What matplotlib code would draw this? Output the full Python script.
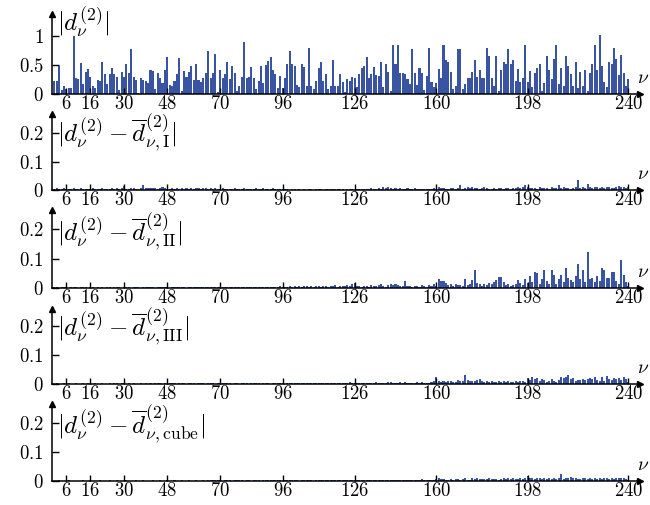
import numpy as np
import matplotlib
matplotlib.use('Agg')
import matplotlib.pyplot as plt

plt.rcParams['mathtext.fontset'] = 'cm'
plt.rcParams['font.family'] = 'serif'
plt.rcParams['font.serif'] = ['cmr10', 'DejaVu Serif']

# |d_nu^(2)| for nu = 1..240
d2 = [0.23, 0.23, 0.48, 0.07, 0.14, 0.09, 0.10, 0.10, 1.00, 0.28,
      0.26, 0.53, 0.17, 0.38, 0.43, 0.30, 0.13, 0.10, 0.24, 0.23,
      0.56, 0.34, 0.17, 0.35, 0.44, 0.35, 0.30, 0.07, 0.38, 0.30,
      0.51, 0.37, 0.78, 0.29, 0.24, 0.01, 0.27, 0.24, 0.23, 0.19,
      0.42, 0.40, 0.08, 0.36, 0.27, 0.19, 0.42, 0.63, 0.15, 0.13,
      0.23, 0.35, 0.62, 0.06, 0.40, 0.30, 0.38, 0.49, 0.24, 0.51,
      0.24, 0.20, 0.27, 0.36, 0.74, 0.27, 0.37, 0.69, 0.03, 0.42,
      0.27, 0.35, 0.56, 0.26, 0.48, 0.37, 0.06, 0.14, 0.30, 0.90,
      0.28, 0.30, 0.47, 0.28, 0.09, 0.22, 0.49, 0.19, 0.50, 0.57,
      0.63, 0.42, 0.35, 0.10, 0.31, 0.10, 0.28, 0.51, 0.74, 0.51,
      0.48, 0.15, 0.12, 0.52, 0.47, 0.14, 0.79, 0.14, 0.08, 0.22,
      0.44, 0.56, 0.22, 0.35, 0.09, 0.14, 0.59, 0.13, 0.13,
      0.35, 0.21, 0.03, 0.26, 0.23, 0.29, 0.27, 0.12, 0.35, 0.45,
      0.49, 0.64, 0.28, 0.35, 0.47, 0.33, 0.31, 0.56, 0.12, 0.52,
      0.38, 0.05, 0.84, 0.51, 0.85, 0.37, 0.37, 0.35, 0.26, 0.17,
      0.77, 0.37, 0.15, 0.45, 0.36, 0.07, 0.31, 0.80, 0.20, 0.12,
      0.19, 0.43, 0.28, 0.84, 0.59, 0.56, 0.38, 0.09, 0.14, 0.77,
      0.77, 0.09, 0.17, 0.28, 0.28, 0.38, 0.59, 0.30, 0.42, 0.28,
      0.28, 0.80, 0.66, 0.28, 0.13, 0.65, 0.05, 0.42, 0.56, 0.52,
      0.77, 0.52, 0.59, 0.23, 0.43, 0.21, 0.28, 0.84, 0.21, 0.40,
      0.12, 0.37, 0.45, 0.51, 0.05, 0.19, 0.66, 0.42, 0.26, 0.60,
      0.85, 0.17, 0.45, 0.14, 0.66, 0.48, 0.35, 0.13, 0.56, 0.10,
      0.38, 0.14, 0.41, 0.05, 0.37, 0.52, 0.85, 0.41, 1.01, 0.48,
      0.21, 0.12, 0.56, 0.52, 0.80, 0.60, 0.33, 0.68, 0.37, 0.14,
      0.26]

# residuals in units of 1e-3
res_I = [5, 6, 4, 3, 6, 5, 2, 4, 6, 5,
         4, 6, 5, 3, 5, 4, 6, 3, 5, 4,
         6, 5, 3, 5, 6, 4, 7, 5, 8, 14,
         3, 2, 6, 7, 5, 4, 8, 19, 6, 8,
         7, 6, 8, 5, 7, 9, 6, 4, 5, 7,
         3, 6, 5, 7, 4, 6, 5, 8, 4, 6,
         7, 5, 6, 8, 4, 6, 5, 7, 3, 5,
         6, 4, 2, 5, 3, 6, 5, 2, 4, 6,
         3, 5, 4, 2, 6, 5, 3, 7, 4, 5,
         2, 6, 4, 3, 5, 2, 4, 3, 1, 5,
         2, 0, 3, 1, 3, 0, 2, 3, 0, 3,
         2, 3, 1, 3, 4, 2, 3, 5, 4, 3,
         2, 0, 3, 5, 2, 1, 4, 3, 2, 5,
         3, 2, 6, 5, 4, 7, 3, 10, 6, 12,
         7, 5, 6, 4, 7, 5, 3, 6, 5, 4,
         6, 3, 5, 4, 3, 5, 2, 4, 7, 5,
         9, 6, 7, 5, 4, 8, 6, 5, 7, 16,
         3, 6, 12, 8, 10, 7, 6, 5, 6, 12,
         6, 5, 4, 7, 5, 6, 8, 5, 7, 6,
         5, 8, 6, 9, 7, 10, 18, 9, 6, 8,
         7, 5, 9, 6, 8, 7, 5, 10, 6, 8,
         18, 7, 9, 6, 8, 5, 7, 9, 36, 8,
         12, 7, 21, 10, 6, 9, 12, 8, 10, 7,
         9, 11, 8, 6, 10, 13, 9, 12, 8, 10]

res_II = [2, 3, 1, 2, 3, 2, 1, 2, 3, 2,
          1, 2, 2, 3, 1, 2, 3, 1, 2, 1,
          2, 1, 3, 2, 1, 2, 3, 2, 1, 3,
          2, 3, 1, 2, 3, 2, 1, 2, 3, 2,
          3, 2, 1, 3, 2, 4, 2, 3, 1, 3,
          2, 4, 3, 2, 3, 1, 3, 4, 2, 3,
          3, 2, 4, 3, 2, 4, 3, 2, 4, 3,
          4, 3, 2, 4, 3, 5, 2, 4, 3, 2,
          3, 4, 2, 3, 5, 3, 4, 2, 5, 3,
          4, 3, 5, 4, 6, 3, 5, 4, 8, 5,
          6, 4, 7, 5, 8, 6, 5, 7, 4, 6,
          7, 5, 6, 8, 5, 7, 6, 9, 5, 6,
          7, 6, 9, 8, 12, 18, 7, 6, 5, 8,
          6, 5, 9, 7, 8, 10, 15, 7, 5, 9,
          12, 10, 14, 10, 6, 8, 25, 7, 6, 5,
          8, 6, 5, 9, 7, 5, 10, 8, 12, 6,
          30, 23, 23, 16, 10, 12, 8, 14, 9, 11,
          7, 32, 10, 12, 26, 60, 18, 12, 8, 14,
          10, 16, 12, 20, 26, 39, 39, 22, 9, 14,
          8, 10, 12, 26, 18, 11, 32, 18, 41, 20,
          53, 50, 12, 30, 60, 25, 15, 60, 46, 14,
          30, 46, 20, 69, 35, 28, 20, 40, 83, 30,
          62, 20, 122, 30, 35, 20, 40, 25, 69, 62,
          35, 35, 53, 53, 25, 14, 94, 44, 21, 8]

res_III = [1, 2, 1, 1, 2, 1, 2, 1, 1, 2,
           1, 1, 2, 1, 2, 1, 1, 2, 1, 1,
           2, 1, 1, 2, 1, 2, 2, 1, 3, 2,
           1, 2, 1, 2, 1, 1, 2, 1, 2, 1,
           2, 1, 2, 2, 3, 1, 2, 1, 2, 3,
           2, 1, 2, 3, 2, 1, 2, 2, 3, 1,
           2, 3, 2, 1, 2, 3, 2, 1, 3, 2,
           4, 2, 3, 2, 1, 3, 2, 1, 2, 3,
           2, 1, 3, 2, 3, 2, 1, 2, 3, 2,
           1, 2, 4, 3, 2, 3, 1, 2, 4, 3,
           2, 3, 4, 2, 3, 5, 2, 3, 4, 2,
           3, 4, 5, 3, 2, 4, 5, 3, 4, 2,
           5, 3, 4, 6, 3, 4, 2, 5, 3, 4,
           5, 3, 4, 3, 6, 4, 5, 3, 4, 6,
           8, 4, 5, 3, 7, 4, 6, 5, 4, 3,
           5, 6, 4, 7, 3, 5, 4, 8, 10, 23,
           12, 8, 10, 7, 9, 11, 6, 8, 14, 9,
           12, 30, 15, 10, 12, 9, 14, 16, 11, 8,
           9, 7, 10, 8, 6, 9, 8, 11, 7, 9,
           6, 8, 10, 7, 12, 9, 8, 21, 14, 23,
           18, 22, 10, 19, 14, 8, 11, 17, 9, 7,
           13, 26, 22, 24, 30, 16, 20, 12, 14, 13,
           18, 15, 17, 20, 16, 26, 14, 12, 24, 9,
           28, 17, 14, 22, 16, 20, 13, 24, 19, 6]

res_cube = [1, 0, 2, 1, 0, 1, 2, 0, 1, 1,
            0, 1, 2, 1, 0, 2, 1, 0, 1, 2,
            1, 0, 1, 2, 0, 1, 2, 1, 0, 1,
            2, 1, 0, 1, 2, 0, 1, 2, 1, 0,
            1, 2, 0, 1, 2, 1, 0, 2, 1, 1,
            2, 0, 1, 2, 1, 0, 2, 1, 1, 2,
            0, 1, 2, 1, 3, 2, 4, 2, 3, 2,
            1, 2, 3, 2, 1, 3, 2, 4, 2, 1,
            2, 3, 1, 2, 3, 2, 1, 3, 4, 2,
            3, 2, 4, 3, 2, 1, 3, 2, 3, 4,
            2, 3, 1, 3, 2, 4, 2, 3, 1, 2,
            3, 2, 4, 3, 2, 3, 5, 3, 2, 4,
            3, 2, 4, 5, 3, 2, 4, 3, 5, 2,
            3, 4, 2, 5, 3, 4, 2, 3, 5, 4,
            3, 5, 4, 3, 4, 2, 5, 3, 4, 3,
            5, 4, 3, 6, 4, 3, 5, 2, 4, 7,
            9, 6, 8, 5, 4, 7, 5, 6, 8, 4,
            6, 9, 5, 3, 10, 8, 9, 7, 8, 6,
            7, 9, 6, 8, 7, 5, 8, 9, 6, 10,
            7, 9, 6, 8, 10, 7, 9, 16, 12, 11,
            8, 12, 9, 6, 10, 7, 11, 8, 9, 7,
            10, 23, 8, 12, 10, 13, 9, 11, 8, 7,
            10, 9, 8, 11, 7, 9, 8, 10, 6, 9,
            11, 8, 10, 7, 9, 10, 12, 9, 8, 5]

xticks = [6, 16, 30, 48, 70, 96, 126, 160, 198, 240]

labels = [r'$|d_{\nu}^{(2)}|$',
          r'$|d_{\nu}^{(2)}-\overline{d}_{\nu,\mathrm{I}}^{(2)}|$',
          r'$|d_{\nu}^{(2)}-\overline{d}_{\nu,\mathrm{II}}^{(2)}|$',
          r'$|d_{\nu}^{(2)}-\overline{d}_{\nu,\mathrm{III}}^{(2)}|$',
          r'$|d_{\nu}^{(2)}-\overline{d}_{\nu,\mathrm{cube}}^{(2)}|$']

series = [np.array(d2),
          np.array(res_I) * 1e-3,
          np.array(res_II) * 1e-3,
          np.array(res_III) * 1e-3,
          np.array(res_cube) * 1e-3]

BLUE = '#3a54a4'
W, H = 650, 505
# (baseline px, top px, ymax, yticks, labels, label top px)
layout = [(94, 14, 1.38, [0, 0.5, 1], ['0', '0.5', '1'], 6),
          (190, 114, 0.268, [0, 0.1, 0.2], ['0', '0.1', '0.2'], 112),
          (288, 210, 0.266, [0, 0.1, 0.2], ['0', '0.1', '0.2'], 211),
          (384, 309, 0.26, [0, 0.1, 0.2], ['0', '0.1', '0.2'], 306),
          (481, 404, 0.267, [0, 0.1, 0.2], ['0', '0.1', '0.2'], 403)]

fig = plt.figure(figsize=(6.5, 5.05), dpi=100)
for vals, lab, (y0, yt, ymax, yt_vals, yt_labs, ltop) in zip(series, labels, layout):
    nu = np.arange(1, len(vals) + 1)
    ax = fig.add_axes([52 / W, (H - y0) / H, 588 / W, (y0 - yt) / H])
    ax.patch.set_alpha(0)
    ax.bar(nu, vals, width=0.85, color=BLUE, linewidth=0)
    ax.set_xlim(0, 244.8)
    ax.set_ylim(0, ymax)
    for s in ['top', 'right']:
        ax.spines[s].set_visible(False)
    for s in ['left', 'bottom']:
        ax.spines[s].set_linewidth(1.1)
    ax.plot(1, 0, '>k', transform=ax.transAxes, clip_on=False, ms=5)
    ax.plot(0, 1, '^k', transform=ax.transAxes, clip_on=False, ms=4)
    ax.set_xticks(xticks)
    ax.set_xticklabels(['$%d$' % t for t in xticks], fontsize=13.5)
    ax.set_yticks(yt_vals)
    ax.set_yticklabels(['$%s$' % t for t in yt_labs], fontsize=13.5)
    ax.tick_params(axis='x', direction='in', length=4.5, width=1, pad=1)
    ax.tick_params(axis='y', direction='in', length=5, width=1, pad=6)
    ax.annotate(r'$\nu$', xy=(1, 0), xycoords='axes fraction',
                xytext=(-2.5, 5), textcoords='offset points', fontsize=14,
                ha='left', va='bottom')
    fig.text(57 / W, 1 - ltop / H, lab, fontsize=18, ha='left', va='top')

fig.savefig('out.png', dpi=100)
